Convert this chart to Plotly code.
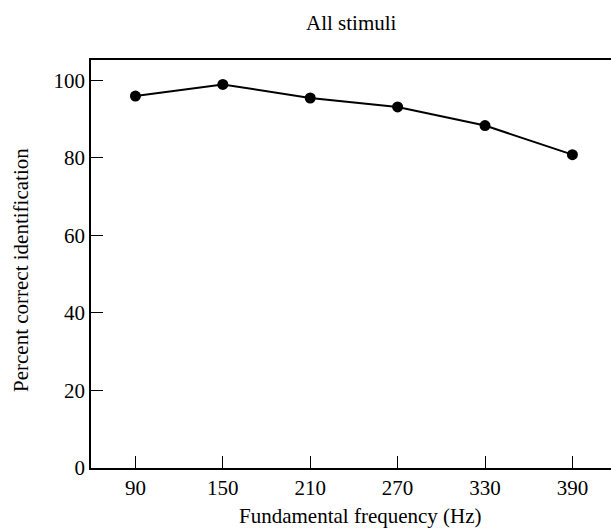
import plotly.graph_objects as go

freq = [90, 150, 210, 270, 330, 390]
pct = [95.9, 98.9, 95.4, 93.1, 88.3, 80.8]
x_ticks = [90, 150, 210, 270, 330, 390]
y_ticks = [0, 20, 40, 60, 80, 100]

FONT = "Liberation Serif, Times New Roman, serif"
FS = 21

L, T, B = 91, 60, 468
W, H = 611, 528

fig = go.Figure()
fig.add_trace(go.Scatter(
    x=freq, y=pct, mode="lines+markers",
    line=dict(color="black", width=2),
    marker=dict(color="black", size=11),
    showlegend=False,
))

fig.update_layout(
    width=W, height=H,
    margin=dict(l=L, r=0, t=T, b=H - B),
    paper_bgcolor="white", plot_bgcolor="white",
    font=dict(family=FONT, size=FS, color="black"),
    xaxis=dict(
        range=[59.5, 416.5], tickvals=x_ticks, ticks="inside", ticklen=12,
        tickwidth=1.2, tickcolor="black", showline=True, linecolor="black",
        linewidth=2, mirror=True, showgrid=False, zeroline=False,
        tickfont=dict(size=FS),
    ),
    yaxis=dict(
        range=[0, 105.2], tickvals=y_ticks, ticks="inside", ticklen=12,
        tickwidth=1.2, tickcolor="black", showline=True, linecolor="black",
        linewidth=1.5, showgrid=False, zeroline=False,
        tickfont=dict(size=FS),
    ),
)

def px_x(px):
    return (px - L) / float(W - L)

def px_y(py):
    return (B - py) / float(B - T)

fig.add_annotation(text="All stimuli", xref="paper", yref="paper",
                   x=px_x(351), y=px_y(23), showarrow=False,
                   xanchor="center", yanchor="middle", font=dict(size=FS))
fig.add_annotation(text="Fundamental frequency (Hz)", xref="paper", yref="paper",
                   x=px_x(360), y=px_y(516), showarrow=False,
                   xanchor="center", yanchor="middle", font=dict(size=FS))
fig.add_annotation(text="Percent correct identification", xref="paper", yref="paper",
                   x=px_x(21), y=px_y(270), showarrow=False, textangle=-90,
                   xanchor="center", yanchor="middle", font=dict(size=FS))

fig.write_html("out.html")
